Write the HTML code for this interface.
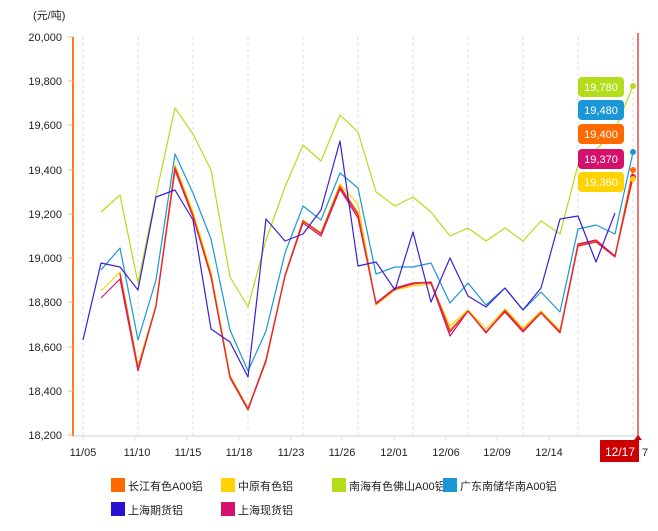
<!DOCTYPE html>
<html><head><meta charset="utf-8"><style>
body{margin:0;background:#fff;}
svg text{font-family:"Liberation Sans","Noto Sans CJK SC",sans-serif;}
</style></head><body>
<svg width="658" height="526" xmlns="http://www.w3.org/2000/svg">
<rect width="658" height="526" fill="#fff"/>
<g stroke="#ddd" stroke-dasharray="3,3" stroke-width="1">
<line x1="83" y1="37" x2="83" y2="435"/><line x1="138" y1="37" x2="138" y2="435"/><line x1="193" y1="37" x2="193" y2="435"/><line x1="248" y1="37" x2="248" y2="435"/><line x1="303" y1="37" x2="303" y2="435"/><line x1="358" y1="37" x2="358" y2="435"/><line x1="413" y1="37" x2="413" y2="435"/><line x1="468" y1="37" x2="468" y2="435"/><line x1="523" y1="37" x2="523" y2="435"/><line x1="578" y1="37" x2="578" y2="435"/><line x1="633" y1="37" x2="633" y2="435"/>
</g>
<line x1="73" y1="436" x2="640" y2="436" stroke="#e0e0e0" stroke-width="1.5"/>
<g stroke="#e0e0e0"><line x1="83" y1="436" x2="83" y2="441"/><line x1="135" y1="436" x2="135" y2="441"/><line x1="187" y1="436" x2="187" y2="441"/><line x1="239" y1="436" x2="239" y2="441"/><line x1="291" y1="436" x2="291" y2="441"/><line x1="342" y1="436" x2="342" y2="441"/><line x1="394" y1="436" x2="394" y2="441"/><line x1="446" y1="436" x2="446" y2="441"/><line x1="497" y1="436" x2="497" y2="441"/><line x1="549" y1="436" x2="549" y2="441"/></g>
<line x1="73" y1="37" x2="73" y2="436" stroke="#ff7a1f" stroke-width="2"/>
<g stroke="#ffb07a"><line x1="68" y1="37" x2="73" y2="37"/><line x1="68" y1="81" x2="73" y2="81"/><line x1="68" y1="125" x2="73" y2="125"/><line x1="68" y1="170" x2="73" y2="170"/><line x1="68" y1="214" x2="73" y2="214"/><line x1="68" y1="258" x2="73" y2="258"/><line x1="68" y1="302" x2="73" y2="302"/><line x1="68" y1="347" x2="73" y2="347"/><line x1="68" y1="391" x2="73" y2="391"/><line x1="68" y1="435" x2="73" y2="435"/></g>
<g font-size="11" fill="#222" text-anchor="end">
<text x="62" y="41">20,000</text><text x="62" y="85">19,800</text><text x="62" y="129">19,600</text><text x="62" y="174">19,400</text><text x="62" y="218">19,200</text><text x="62" y="262">19,000</text><text x="62" y="306">18,800</text><text x="62" y="351">18,600</text><text x="62" y="395">18,400</text><text x="62" y="439">18,200</text>
</g>
<text x="33" y="19" font-size="11" fill="#222">(元/吨)</text>
<g font-size="11" fill="#222" text-anchor="middle">
<text x="83" y="456">11/05</text><text x="137" y="456">11/10</text><text x="188" y="456">11/15</text><text x="239" y="456">11/18</text><text x="291" y="456">11/23</text><text x="342" y="456">11/26</text><text x="394" y="456">12/01</text><text x="446" y="456">12/06</text><text x="497" y="456">12/09</text><text x="549" y="456">12/14</text><text x="645" y="456">7</text>
</g>
<g fill="none" stroke-width="1.2" stroke-linejoin="round">
<polyline stroke="#b3dd1a" points="101,212 120,195 138,283 156,195 175,108 193,134 211,170 230,277 248,307 266,240 285,187 303,145 321,161 340,115 358,132 376,192 395,206 413,197 431,212 450,236 468,228 486,241 505,228 523,241 541,221 560,234 578,165 596,150 615,130 633,86"/>
<polyline stroke="#1b96d6" points="101,270 120,248 138,340 156,280 175,154 193,193 211,239 230,330 248,371 266,331 285,253 303,206 321,220 340,173 358,188 376,274 395,267 413,267 431,263 450,303 468,283 486,305 505,288 523,310 541,292 560,312 578,229 596,225 615,234 633,152"/>
<polyline stroke="#ffd200" points="101,291 120,272 138,366 156,305 175,165 193,212 211,272 230,375 248,408 266,362 285,275 303,220 321,233 340,184 358,204 376,305 395,290 413,286 431,284 450,326 468,310 486,329 505,309 523,328 541,311 560,330 578,246 596,242 615,256 633,178"/>
<polyline stroke="#ff6a00" points="120,273 138,368 156,306 175,167 193,215 211,275 230,377 248,409 266,360 285,275 303,221 321,233 340,186 358,213 376,303 395,289 413,283 431,282 450,330 468,311 486,332 505,310 523,330 541,312 560,332 578,245 596,241 615,256 633,170"/>
<polyline stroke="#d4126e" points="101,298 120,279 138,371 156,306 175,170 193,217 211,277 230,377 248,409 266,360 285,276 303,223 321,236 340,189 358,218 376,303 395,288 413,283 431,283 450,336 468,311 486,332 505,312 523,332 541,313 560,332 578,244 596,240 615,256 633,177"/>
<polyline stroke="#e82a2a" points="120,274 138,369 156,306 175,168 193,216 211,276 230,378 248,410 266,361 285,276 303,221 321,234 340,187 358,215 376,304 395,289 413,284 431,282 450,332 468,311 486,333 505,311 523,331 541,313 560,333 578,246 596,242 615,257 633,174"/>
<polyline stroke="#3a1fd6" points="83,340 101,263 120,267 138,290 156,197 175,190 193,220 211,329 230,342 248,377 266,219 285,241 303,234 321,210 340,141 358,266 376,262 395,290 413,232 431,302 450,258 468,296 486,307 505,288 523,310 541,288 560,219 578,216 596,262 615,213"/>
</g>
<line x1="638" y1="33" x2="638" y2="445" stroke="#e02020" stroke-width="1.2"/>
<circle cx="633" cy="86" r="3" fill="#b3dd1a"/><circle cx="633" cy="152" r="3" fill="#1b96d6"/><circle cx="633" cy="170" r="3" fill="#ff6a00"/><circle cx="633" cy="177" r="3" fill="#d4126e"/><circle cx="633" cy="179" r="3" fill="#ffd200"/>
<g font-size="11" fill="#fff" text-anchor="middle">
<rect x="578" y="77" width="46" height="20" rx="4" fill="#b3dd1a"/><text x="601" y="91">19,780</text>
<rect x="578" y="100" width="46" height="20" rx="4" fill="#1b96d6"/><text x="601" y="114">19,480</text>
<rect x="578" y="124" width="46" height="20" rx="4" fill="#ff6a00"/><text x="601" y="138">19,400</text>
<rect x="578" y="149" width="46" height="20" rx="4" fill="#d4126e"/><text x="601" y="163">19,370</text>
<rect x="578" y="172" width="46" height="20" rx="4" fill="#ffd200"/><text x="601" y="186">19,360</text>
<rect x="600" y="440" width="39" height="22" fill="#cc0000"/><polygon points="634,440 638,435 642,440" fill="#cc0000"/><text x="620" y="456" font-size="12">12/17</text>
</g>
<g font-size="11" fill="#222">
<rect x="111" y="478" width="14" height="14" fill="#ff6a00"/><text x="128" y="490">长江有色A00铝</text>
<rect x="221" y="478" width="14" height="14" fill="#ffd200"/><text x="238" y="490">中原有色铝</text>
<rect x="332" y="478" width="14" height="14" fill="#b3dd1a"/><text x="349" y="490">南海有色佛山A00铝</text>
<rect x="443" y="478" width="14" height="14" fill="#1b96d6"/><text x="460" y="490">广东南储华南A00铝</text>
<rect x="111" y="502" width="14" height="14" fill="#2a10d0"/><text x="128" y="514">上海期货铝</text>
<rect x="221" y="502" width="14" height="14" fill="#d4126e"/><text x="238" y="514">上海现货铝</text>
</g>
</svg>
</body></html>
